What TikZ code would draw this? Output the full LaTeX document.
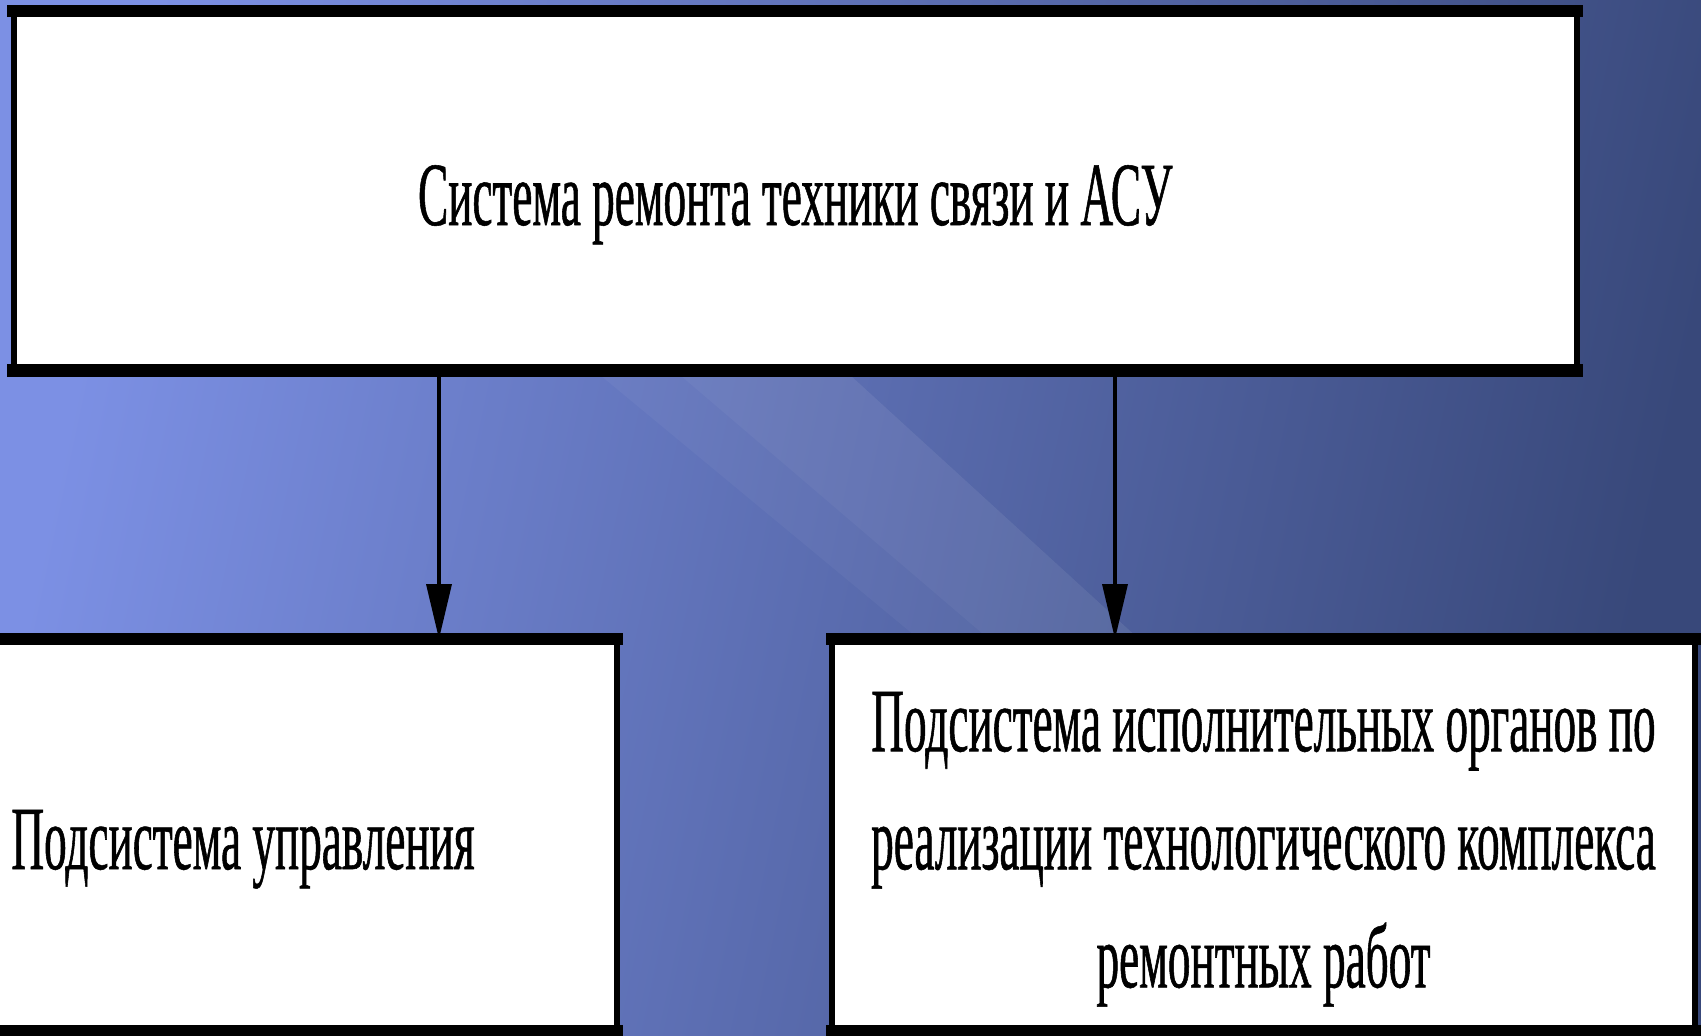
\documentclass[tikz,border=0pt]{standalone}
\usepackage{fontspec}
\newfontfamily\slidefont[FakeStretch=0.5,FakeBold=0.6]{Liberation Serif}
\usepackage{xcolor}
\usetikzlibrary{arrows.meta, positioning}

\definecolor{bgLight}{RGB}{124,144,228}
\definecolor{bgMid}{RGB}{84,104,180}
\definecolor{bgDark}{RGB}{56,72,122}

\newcommand{\capstrut}{\rule{0pt}{50pt}}

\begin{document}
\begin{tikzpicture}[
  x=0.02cm, y=-0.02cm,
  box/.style={
    rectangle, draw=black, fill=white,
    line width=0.12cm, inner sep=0pt, outer sep=0pt,
    align=center, font=\slidefont\fontsize{51.5}{67.2}\selectfont,
    append after command={
      (\tikzlastnode.north west) edge[hbar] (\tikzlastnode.north east)
      (\tikzlastnode.south west) edge[hbar] (\tikzlastnode.south east)}},
  hbar/.style={draw=black, line width=0.25cm, line cap=rect},
  arr/.style={-{Triangle[length=1.1cm,width=0.5cm]}, line width=0.07cm, draw=black}
]

%% Slide background
\path[use as bounding box] (0,0) rectangle (1701,1035);
\clip (0,0) rectangle (1701,1035);
\shade[left color=bgLight, middle color=bgMid, right color=bgDark,
       shading angle=78] (0,0) rectangle (1701,1035);
\fill[white, opacity=0.04] (600,375) -- (850,375) -- (1140,640) -- (920,640) -- cycle;
\fill[white, opacity=0.04] (680,375) -- (850,375) -- (1140,640) -- (990,640) -- cycle;

%% Boxes
\node[box, minimum width=31.27cm, minimum height=7.19cm] (sys) at (795.25,190.75)
  {\capstrut Система ремонта техники связи и АСУ};
\node[box, minimum width=14.96cm, minimum height=7.84cm] (ctrl) at (243,835)
  {\capstrut Подсистема управления};
\node[box, minimum width=17.26cm, minimum height=7.84cm] (exec) at (1263.5,835)
  {\capstrut Подсистема исполнительных органов по\\
   реализации технологического комплекса\\
   ремонтных работ};

%% Arrows
\coordinate (ctrlx) at (439,0);
\coordinate (execx) at (1115,0);
\draw[arr] (sys.south -| ctrlx) -- (ctrl.north -| ctrlx);
\draw[arr] (sys.south -| execx) -- (exec.north -| execx);

\end{tikzpicture}
\end{document}
